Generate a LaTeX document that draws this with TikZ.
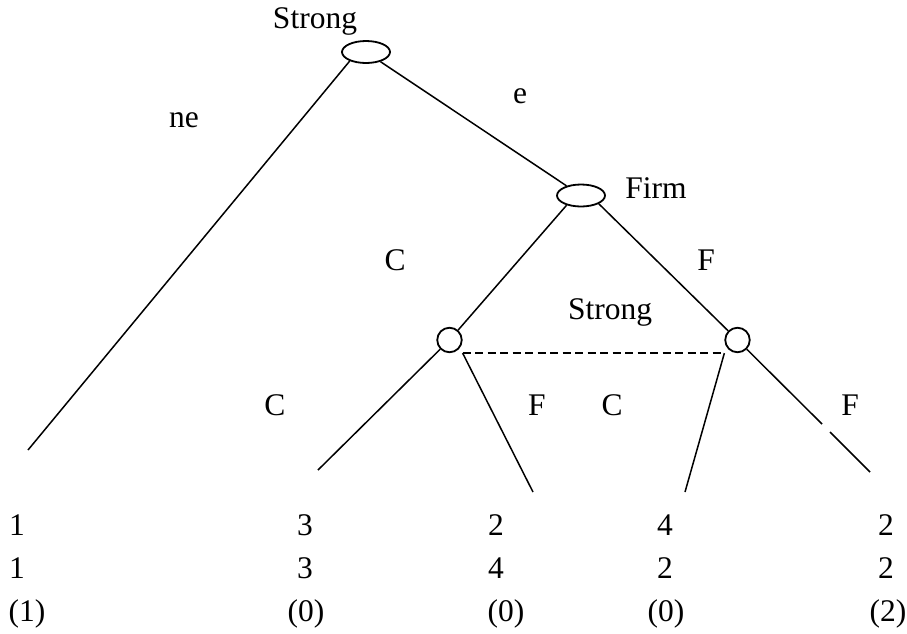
\documentclass[tikz,border=0pt]{standalone}
\usepackage{fontspec}
\setmainfont{Liberation Serif}
\usetikzlibrary{shapes.geometric}
\begin{document}
\begin{tikzpicture}[x=1pt,y=-1pt,
  lbl/.style={anchor=base,inner sep=0pt,font=\fontsize{31.5}{37}\selectfont},
  oval/.style={draw,ellipse,line width=1.8pt,inner sep=0pt,minimum width=48pt,minimum height=22pt},
  dot/.style={draw,circle,line width=1.8pt,inner sep=0pt,minimum size=24.5pt},
  edge/.style={line width=1.5pt},
  info/.style={line width=1.5pt,dash pattern=on 8pt off 4.5pt}]
\useasboundingbox (0,0) rectangle (907,633);
% decision nodes
\node[oval] (s1) at (366,52) {};
\node[oval] (firm) at (581,195.5) {};
\node[dot] (lc) at (449.5,340) {};
\node[dot] (rc) at (737.5,340) {};
% terminal ends
\coordinate (t1) at (28,450);
\coordinate (t2) at (318,470);
\coordinate (t3) at (533,492);
\coordinate (t4) at (685,492);
\coordinate (t5) at (870,472);
\coordinate (g1) at (822,424);
\coordinate (g2) at (830,432);
% branches
\draw[edge] (s1.209) -- (t1);
\draw[edge] (s1) -- (firm);
\draw[edge] (firm.214) -- (lc);
\draw[edge] (firm.335) -- (rc);
\draw[edge] (lc) -- (t2);
\draw[edge] (lc.south -| lc.east) -- (t3);
\draw[edge] (rc.south -| rc.west) -- (t4);
\draw[edge] (rc) -- (g1);
\draw[edge] (g2) -- (t5);
\draw[info] (lc.south -| lc.east) -- (rc.south -| rc.west);
% labels
\node[lbl] (ls1) at (315,28) {Strong};
\node[lbl] (lne) at (184,127) {ne};
\node[lbl] (le) at (520,103) {e};
\node[lbl] (lfirm) at (656,198) {Firm};
\node[lbl] (lc1) at (395,270) {C};
\node[lbl] (lf1) at (706,270) {F};
\node[lbl] (ls2) at (610,319) {Strong};
\node[lbl] (lc2) at (275,415) {C};
\node[lbl] (lf2) at (537,415) {F};
\node[lbl] (lc3) at (612,415) {C};
\node[lbl] (lf3) at (850,415) {F};
% payoffs
\node[lbl] (p11) at (17,535) {1};
\node[lbl] (p12) at (17,578) {1};
\node[lbl] (p13) at (27,621) {(1)};
\node[lbl] (p21) at (305,535) {3};
\node[lbl] (p22) at (305,578) {3};
\node[lbl] (p23) at (306,621) {(0)};
\node[lbl] (p31) at (496,535) {2};
\node[lbl] (p32) at (496,578) {4};
\node[lbl] (p33) at (506,621) {(0)};
\node[lbl] (p41) at (665,535) {4};
\node[lbl] (p42) at (665,578) {2};
\node[lbl] (p43) at (666,621) {(0)};
\node[lbl] (p51) at (886,535) {2};
\node[lbl] (p52) at (886,578) {2};
\node[lbl] (p53) at (888,621) {(2)};
\end{tikzpicture}
\end{document}
